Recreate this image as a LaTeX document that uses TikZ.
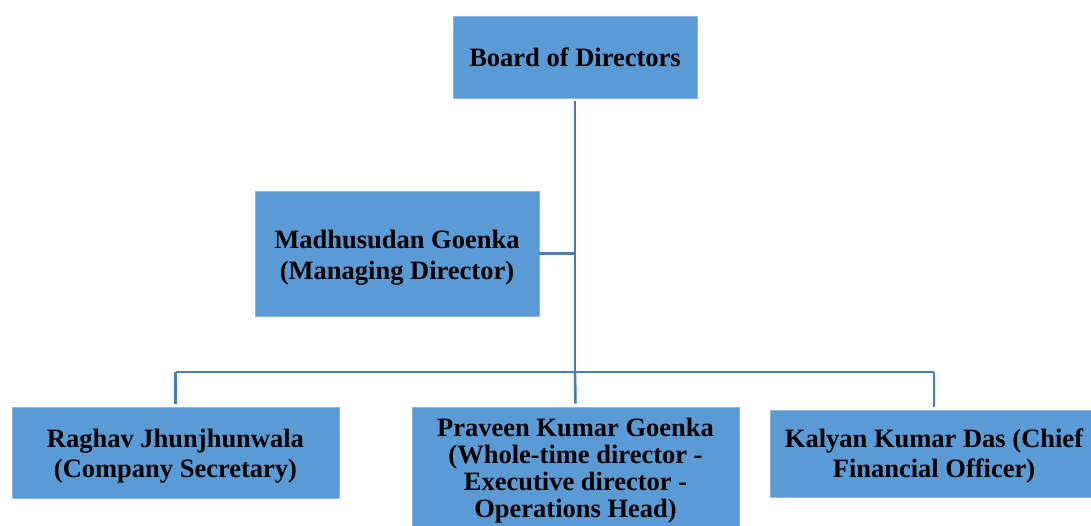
\documentclass[tikz,border=0pt]{standalone}
\usepackage{fontspec}
\setmainfont{Liberation Serif}
\definecolor{boxfill}{HTML}{5B9BD5}
\definecolor{boxedge}{HTML}{8EB6E0}
\definecolor{linec}{HTML}{4A7DB5}
\begin{document}
\begin{tikzpicture}[x=1pt,y=-1pt,
  orgbox/.style={rectangle, fill=boxfill, draw=boxedge, line width=0.8pt, inner sep=0pt},
  orgtext/.style={inner sep=0pt, align=center, font=\bfseries\fontsize{26.5}{30}\selectfont},
  conn/.style={draw=linec, line width=2.6pt}]
\useasboundingbox (0,0) rectangle (1091,525);
\node[orgbox, minimum width=244pt, minimum height=82pt] (board) at (575,57) {};
\node[orgtext] (boardt) at ([yshift=-0.5pt]board.center) {Board of Directors};
\node[orgbox, minimum width=284pt, minimum height=125pt] (md) at (397,253.5) {};
\node[orgtext, font=\bfseries\fontsize{26.5}{31}\selectfont] (mdt) at ([yshift=-4pt]md.center) {Madhusudan Goenka\\(Managing Director)};
\node[orgbox, minimum width=327pt, minimum height=91pt] (cs) at (175.5,452.5) {};
\node[orgtext] (cst) at ([yshift=-3.5pt]cs.center) {Raghav Jhunjhunwala\\(Company Secretary)};
\node[orgbox, minimum width=327pt, minimum height=124pt] (wtd) at (575.5,469) {};
\node[orgtext, font=\bfseries\fontsize{26.5}{27.2}\selectfont] (wtdt) at ([yshift=-1.5pt]wtd.center) {Praveen Kumar Goenka\\(Whole-time director -\\Executive director -\\Operations Head)};
\node[orgbox, minimum width=328pt, minimum height=87pt] (cfo) at (934,453.5) {};
\node[orgtext] (cfot) at ([yshift=-2.5pt]cfo.center) {Kalyan Kumar Das (Chief\\Financial Officer)};
\coordinate (hub) at (575,372);
\draw[conn, shorten <=3pt] (board.south) -- (hub);
\draw[conn] (md.east) -- (md.east -| hub);
\draw[conn] (cs.north |- hub) -- (cfo.north |- hub);
\draw[conn, shorten >=3pt] (cs.north |- hub) -- (cs.north);
\draw[conn, shorten >=3pt] (hub) -- (wtd.north);
\draw[conn, shorten >=3pt] (cfo.north |- hub) -- (cfo.north);
\end{tikzpicture}
\end{document}
